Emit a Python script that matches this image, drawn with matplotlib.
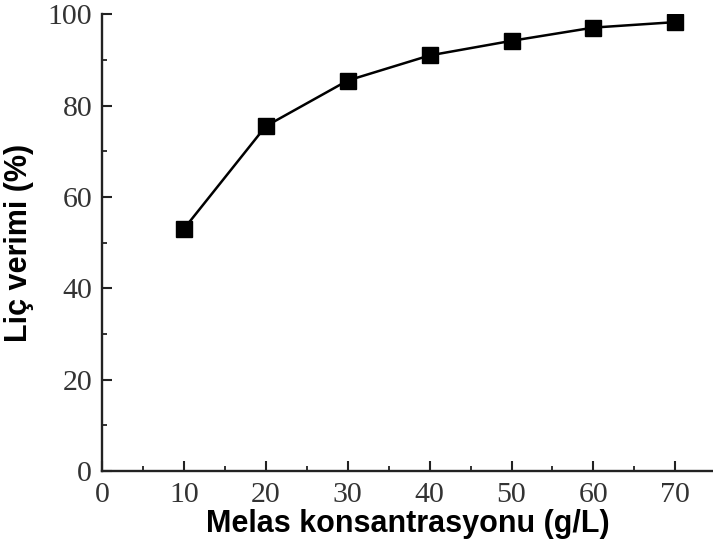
import matplotlib.pyplot as plt
from matplotlib.ticker import MultipleLocator

# Leaching yield vs. molasses concentration
konsantrasyon = [10, 20, 30, 40, 50, 60, 70]
verim = [53.0, 75.5, 85.5, 91.0, 94.2, 97.1, 98.3]

fig = plt.figure(figsize=(7.13, 5.52), dpi=100)
ax = fig.add_axes([0.143, 0.147, 0.857, 0.827])

ax.plot(konsantrasyon, verim, color='black', linewidth=1.8,
        marker='s', markersize=12, markerfacecolor='black', markeredgecolor='black')

ax.set_xlim(0, 74.6)
ax.set_ylim(0, 100)
ax.xaxis.set_major_locator(MultipleLocator(10))
ax.xaxis.set_minor_locator(MultipleLocator(5))
ax.yaxis.set_major_locator(MultipleLocator(20))
ax.yaxis.set_minor_locator(MultipleLocator(10))

for side in ['top', 'right']:
    ax.spines[side].set_visible(False)
for side in ['left', 'bottom']:
    ax.spines[side].set_linewidth(1.7)
    ax.spines[side].set_color('#222222')

ax.tick_params(which='major', direction='in', length=7, width=1.5,
               labelsize=21.5, color='#222222')
ax.tick_params(axis='x', which='major', pad=8)
ax.tick_params(axis='y', which='major', pad=7)
ax.tick_params(which='minor', direction='in', length=3.5, width=1.3, color='#222222')
for lbl in ax.get_xticklabels() + ax.get_yticklabels():
    lbl.set_fontfamily('Liberation Serif')
    lbl.set_color('#333333')

ax.set_xlabel('Melas konsantrasyonu (g/L)', fontsize=22, fontweight='bold',
              family='Liberation Sans', labelpad=1)
ax.set_ylabel('Liç verimi (%)', fontsize=22, fontweight='bold',
              family='Liberation Sans', labelpad=10)

fig.savefig('out.png', dpi=100)
